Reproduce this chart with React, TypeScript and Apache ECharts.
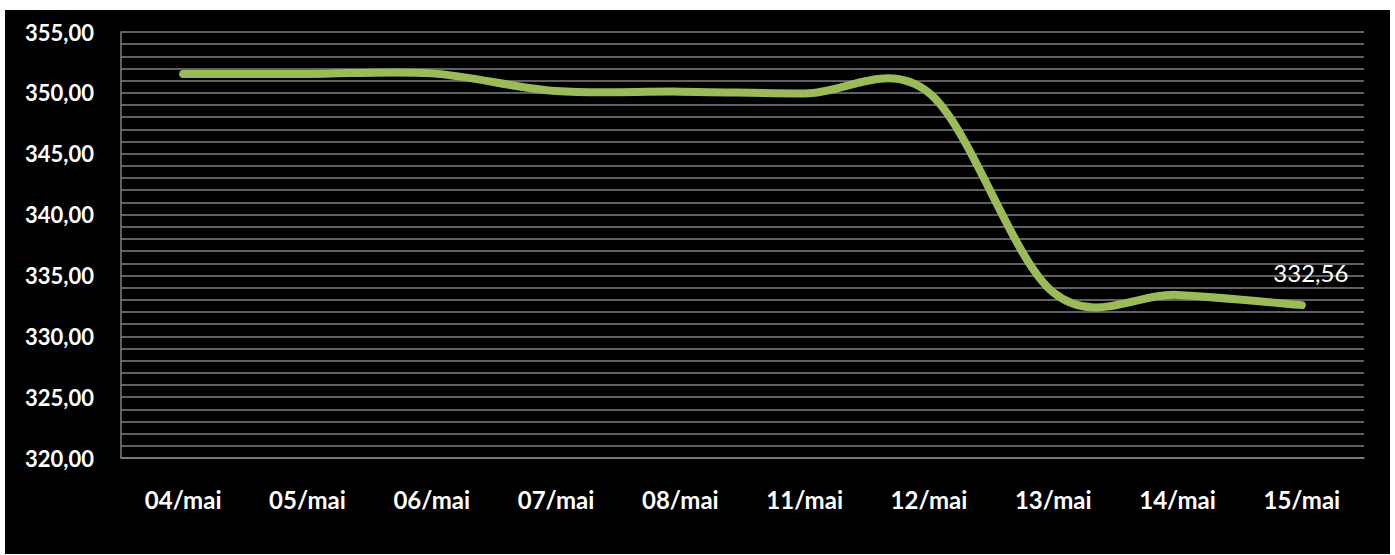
import React, { useEffect, useRef } from "react";
import * as echarts from "echarts";

const categories = ["04/mai", "05/mai", "06/mai", "07/mai", "08/mai", "11/mai", "12/mai", "13/mai", "14/mai", "15/mai"];
const values = [351.55, 351.55, 351.6, 350.15, 350.1, 349.95, 350.0, 333.6, 333.4, 332.56];
const yMin = 320;
const yMax = 355;
const yStep = 5;

const fmt = (v: number) => v.toFixed(2).replace(".", ",");

export default function App() {
  const ref = useRef<HTMLDivElement>(null);
  useEffect(() => {
    if (!ref.current) return;
    const chart = echarts.init(ref.current, undefined, { renderer: "svg" });
    const last = values.length - 1;
    const labelFont = { fontFamily: "Lato", fontWeight: "bold" as const, color: "#ffffff" };
    chart.setOption({
      animation: false,
      backgroundColor: "#000000",
      grid: { left: 116, top: 22, right: 26, bottom: 96, containLabel: false },
      xAxis: {
        type: "category",
        data: categories,
        boundaryGap: true,
        axisLine: { show: true, lineStyle: { color: "#808080", width: 1.5 } },
        axisTick: { show: false },
        axisLabel: { ...labelFont, fontSize: 24, margin: 29, interval: 0 },
        splitLine: { show: false },
      },
      yAxis: {
        type: "value",
        min: yMin,
        max: yMax,
        interval: yStep,
        axisLine: { show: true, lineStyle: { color: "#808080", width: 1.5 } },
        axisTick: { show: false },
        axisLabel: { ...labelFont, fontSize: 22, margin: 27, formatter: (v: number) => fmt(v) },
        splitLine: { show: true, lineStyle: { color: "#808080", width: 1.5 } },
        minorTick: { show: false, splitNumber: 5 },
        minorSplitLine: { show: true, lineStyle: { color: "#808080", width: 1.5 } },
      },
      series: [
        {
          type: "custom",
          clip: false,
          encode: { x: 0, y: 1 },
          data: values.map((v, i) => [i, v]),
          renderItem: (params: any, api: any) => {
            const idx = params.dataIndex;
            if (idx === 0) {
              const pts = values.map((v, i) => api.coord([i, v]));
              const n = pts.length;
              const P = (i: number) => pts[Math.max(0, Math.min(n - 1, i))];
              let d = `M ${pts[0][0]} ${pts[0][1]}`;
              for (let i = 0; i < n - 1; i++) {
                const p0 = P(i - 1), p1 = P(i), p2 = P(i + 1), p3 = P(i + 2);
                const c1x = p1[0] + (p2[0] - p0[0]) / 6;
                const c1y = p1[1] + (p2[1] - p0[1]) / 6;
                const c2x = p2[0] - (p3[0] - p1[0]) / 6;
                const c2y = p2[1] - (p3[1] - p1[1]) / 6;
                d += ` C ${c1x} ${c1y} ${c2x} ${c2y} ${p2[0]} ${p2[1]}`;
              }
              return {
                type: "path",
                shape: { pathData: d },
                style: {
                  fill: "none",
                  stroke: "#9BBB59",
                  lineWidth: 8,
                  lineCap: "round",
                  lineJoin: "round",
                },
              };
            }
            if (idx === last) {
              const pt = api.coord([idx, values[idx]]);
              return {
                type: "text",
                x: pt[0] + 9,
                y: pt[1] - 33,
                style: {
                  text: fmt(values[idx]),
                  fill: "#ffffff",
                  fontFamily: "Lato",
                  fontSize: 24,
                  align: "center",
                  verticalAlign: "middle",
                },
              };
            }
            return null;
          },
        },
      ],
    });
    return () => chart.dispose();
  }, []);
  return (
    <div
      ref={ref}
      style={{ position: "absolute", left: 5, top: 10, width: 1385, height: 544 }}
    />
  );
}
